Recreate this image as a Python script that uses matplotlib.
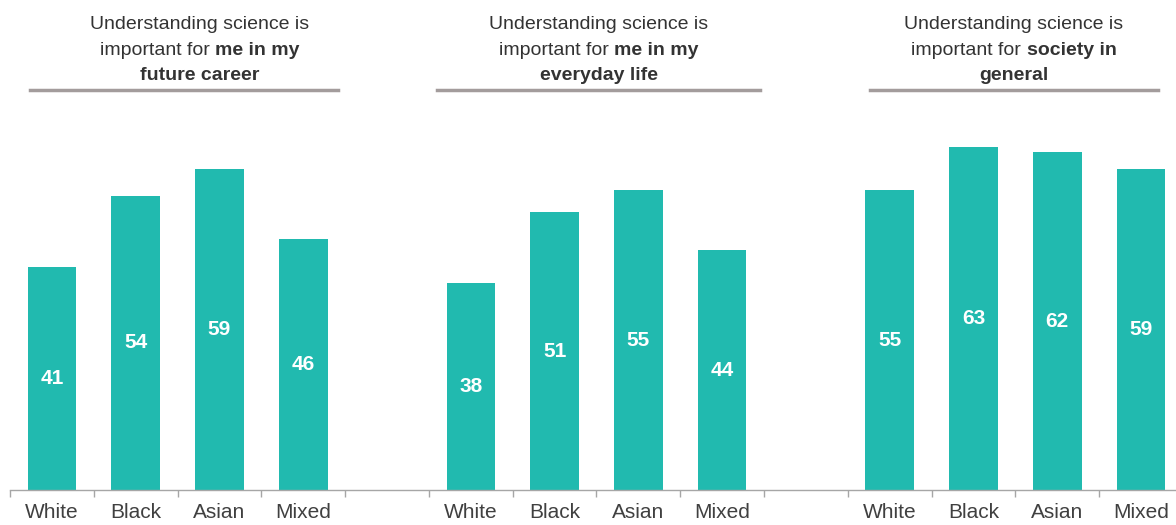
"""Three-panel bar chart: importance of understanding science by ethnicity."""
import matplotlib
matplotlib.use("Agg")
import matplotlib.pyplot as plt
import numpy as np

plt.rcParams['font.family'] = ['Liberation Sans', 'DejaVu Sans']

categories = ['White', 'Black', 'Asian', 'Mixed']
career = [41, 54, 59, 46]
everyday = [38, 51, 55, 44]
society = [55, 63, 62, 59]

# title pieces: list of lines, each a list of (text, bold)
titles = [
    [[('Understanding science is', False)],
     [('important for ', False), ('me in my', True)],
     [('future career', True)]],
    [[('Understanding science is', False)],
     [('important for ', False), ('me in my', True)],
     [('everyday life', True)]],
    [[('Understanding science is', False)],
     [('important for ', False), ('society in', True)],
     [('general', True)]],
]

BAR = '#21BAAF'
W, H = 1176, 525
fig = plt.figure(figsize=(W / 100, H / 100), dpi=100)
ax = fig.add_axes([10 / W, 35 / H, 1173 / W, 390 / H])

groups = [career, everyday, society]
xs, hs, labels = [], [], []
for g, vals in enumerate(groups):
    for i, v in enumerate(vals):
        xs.append(g * 5 + i)
        hs.append(v)
        labels.append(categories[i])

bars = ax.bar(xs, hs, width=0.58, color=BAR, zorder=2)
for b, v in zip(bars, hs):
    ax.text(b.get_x() + b.get_width() / 2, v / 2, str(v), ha='center', va='center',
            color='white', fontsize=15, fontweight='bold')

ax.set_xlim(-0.5, 13.5)
ax.set_ylim(0, 71.6)
ax.set_xticks(xs)
ax.set_xticklabels(labels, fontsize=15, color='#404040')
ax.tick_params(axis='x', length=0, pad=9)
ax.set_xticks(np.arange(-0.5, 14.0, 1.0), minor=True)
ax.tick_params(axis='x', which='minor', length=5, color='#A6A6A6', width=1)
ax.set_yticks([])
for s in ('top', 'left', 'right'):
    ax.spines[s].set_visible(False)
ax.spines['bottom'].set_color('#A6A6A6')
ax.spines['bottom'].set_linewidth(1)

# titles with mixed bold, centred on given pixel x
title_cx = [200, 599, 1014]
rule_span = [(30, 338), (437, 760), (870, 1158)]
baselines = [29, 55, 80]
renderer = fig.canvas.get_renderer()
for cx, lines, (x0, x1) in zip(title_cx, titles, rule_span):
    for line, yb in zip(lines, baselines):
        pieces = []
        for txt, bold in line:
            t = fig.text(0, 1 - yb / H, txt, fontsize=14, color='#333333',
                         fontweight='bold' if bold else 'normal', va='baseline', ha='left')
            w = t.get_window_extent(renderer).width
            pieces.append((t, w))
        total = sum(w for _, w in pieces)
        x = cx - total / 2
        for t, w in pieces:
            t.set_x(x / W)
            x += w
    fig.add_artist(plt.Line2D([x0 / W, x1 / W], [1 - 90 / H, 1 - 90 / H],
                              color='#A39C9C', linewidth=2.5, transform=fig.transFigure))

fig.savefig('out.png', dpi=100)
